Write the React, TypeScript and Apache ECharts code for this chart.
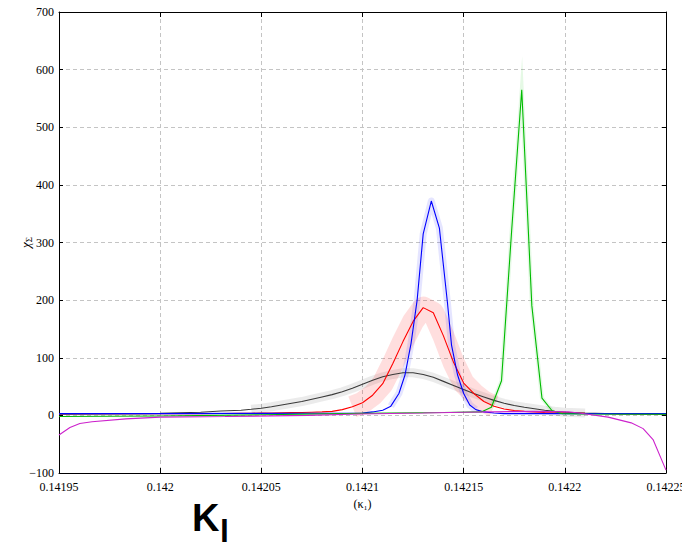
import React, { useEffect, useRef } from "react";
import * as echarts from "echarts";

// x positions (kappa_1) shared by the black and red curves
const kappaGrid = [
  0.14195, 0.14197, 0.14199, 0.142, 0.14201, 0.14202, 0.14203, 0.14204, 0.142045, 0.14205,
  0.142055, 0.14206, 0.142065, 0.14207, 0.142075, 0.14208, 0.142085, 0.14209, 0.142095, 0.1421,
  0.142105, 0.14211, 0.142115, 0.14212, 0.142125, 0.14213, 0.142135, 0.14214, 0.142145, 0.14215,
  0.142155, 0.14216, 0.142165, 0.14217, 0.142175, 0.14218, 0.142185, 0.14219, 0.142195, 0.1422,
  0.14221, 0.14222, 0.14223, 0.14225,
];
const blackY = [
  2, 2.5, 3, 3.5, 4.5, 5.5, 7.5, 9, 10.5, 12.5,
  15, 18, 21, 24, 28, 32, 36, 41, 47, 54,
  61, 67, 71, 74, 74, 71, 66, 59, 52, 45,
  38, 32, 26, 21, 17, 14, 11.5, 9, 7, 5.5,
  4, 3, 2.5, 2,
];
const redY = [
  3, 3, 3, 3, 3, 3, 3.2, 3.5, 3.7, 4,
  4.2, 4.5, 4.8, 5, 5.5, 6, 7, 10, 15, 22,
  35, 55, 90, 128, 163, 187, 178, 138, 92, 56,
  38, 24, 16, 11, 8.5, 7, 6, 5, 4.5, 4,
  3.5, 3.2, 3, 3,
];

const blueX = [
  0.14195, 0.142, 0.14205, 0.1421, 0.142105, 0.14211, 0.142114, 0.142118, 0.142121, 0.142124,
  0.142127, 0.14213, 0.142134, 0.142138, 0.142142, 0.142144, 0.142147, 0.14215, 0.142153, 0.142156,
  0.14216, 0.142165, 0.14217, 0.1422, 0.14225,
];
const blueY = [
  3, 3, 3.5, 4, 6, 9, 16, 38, 70, 125,
  200, 315, 372, 325, 195, 122, 70, 38, 18, 10,
  6, 4, 3, 3, 3,
];

const greenX = [
  0.14195, 0.142, 0.14205, 0.1421, 0.14214, 0.1421587, 0.1421637, 0.1421687, 0.1421737, 0.1421787,
  0.1421837, 0.1421887, 0.1421937, 0.1421987, 0.14221, 0.14225,
];
const greenY = [-2, -1, 1, 3.5, 5, 6, 14, 60, 320, 565, 190, 30, 8, 3, 2.5, 2];

const magentaX = [
  0.14195, 0.1419554, 0.1419603, 0.1419663, 0.141983, 0.142, 0.142032, 0.142073, 0.142098, 0.14213,
  0.14215, 0.142185, 0.1422017, 0.142207, 0.1422214, 0.1422328, 0.1422387, 0.1422436, 0.14225,
];
const magentaY = [-34, -21, -14, -11, -6, -3, -2, 0, 2.5, 4, 5.5, 7, 6, 4, -3, -13, -23, -42, -95];

const xTicks = { min: 0.14195, max: 0.14225, step: 0.00005 };
const yTicks = { min: -100, max: 700, step: 100 };

const pairs = (xs: number[], ys: number[]) => xs.map((x, i) => [x, ys[i]]);

export default function App() {
  const ref = useRef<HTMLDivElement>(null);
  useEffect(() => {
    if (!ref.current) return;
    const chart = echarts.init(ref.current, undefined, { renderer: "svg" });
    const serif = "'Liberation Serif', 'Times New Roman', serif";
    const band = (data: number[][], width: number, color: string, join = "round") => ({
      type: "line",
      data,
      showSymbol: false,
      symbol: "none",
      silent: true,
      z: 1,
      lineStyle: { width, color, join, cap: "butt", miterLimit: 30 },
    });
    const line = (data: number[][], color: string) => ({
      type: "line",
      data,
      showSymbol: false,
      symbol: "none",
      z: 3,
      lineStyle: { width: 1.1, color },
    });
    const black = pairs(kappaGrid, blackY);
    const red = pairs(kappaGrid, redY);
    const blue = pairs(blueX, blueY);
    const green = pairs(greenX, greenY);
    const magenta = pairs(magentaX, magentaY);
    const splitStyle = { show: true, lineStyle: { color: "#c4c4c4", type: [4, 3] } };
    const lineBlack = { show: true, onZero: false, lineStyle: { color: "#000", width: 1 } };
    chart.setOption({
      animation: false,
      grid: {
        left: 59,
        top: 12,
        right: 16,
        bottom: 76,
        outerBoundsMode: "none",
        containLabel: false,
      },
      xAxis: [
        {
          type: "value",
          min: xTicks.min,
          max: xTicks.max,
          interval: xTicks.step,
          name: "(κ₁)",
          nameLocation: "middle",
          nameGap: 25,
          nameMoveOverlap: false,
          nameTextStyle: { fontFamily: serif, fontSize: 12, color: "#000" },
          axisLine: lineBlack,
          axisTick: { show: true, inside: true, length: 5, lineStyle: { color: "#000" } },
          axisLabel: {
            fontFamily: serif,
            fontSize: 12,
            color: "#000",
            margin: 8,
            showMaxLabel: true,
            hideOverlap: false,
            formatter: (v: number) => String(parseFloat(v.toFixed(6))),
          },
          splitLine: splitStyle,
        },
        {
          type: "value",
          position: "top",
          min: xTicks.min,
          max: xTicks.max,
          interval: xTicks.step,
          axisLine: lineBlack,
          axisTick: { show: true, inside: true, length: 5, lineStyle: { color: "#000" } },
          axisLabel: { show: false },
          splitLine: { show: false },
        },
      ],
      yAxis: [
        {
          type: "value",
          min: yTicks.min,
          max: yTicks.max,
          interval: yTicks.step,
          name: "{a|χ}{b|Σ}",
          nameLocation: "middle",
          nameRotate: 90,
          nameGap: 26,
          nameMoveOverlap: false,
          nameTextStyle: {
            rich: {
              a: { fontFamily: serif, fontSize: 13, fontStyle: "italic", color: "#000", lineHeight: 16 },
              b: { fontFamily: serif, fontSize: 9, color: "#000", lineHeight: 16, verticalAlign: "bottom", padding: [4, 0, 0, 0] },
            },
          },
          axisLine: lineBlack,
          axisTick: { show: true, inside: true, length: 4, lineStyle: { color: "#000" } },
          axisLabel: {
            fontFamily: serif,
            fontSize: 12,
            color: "#000",
            margin: 5,
            formatter: (v: number) => String(v).replace("-", "−"),
          },
          splitLine: splitStyle,
        },
        {
          type: "value",
          position: "right",
          min: yTicks.min,
          max: yTicks.max,
          interval: yTicks.step,
          axisLine: lineBlack,
          axisTick: { show: true, inside: true, length: 4, lineStyle: { color: "#000" } },
          axisLabel: { show: false },
          splitLine: { show: false },
        },
      ],
      graphic: [
        {
          type: "text",
          x: 192,
          y: 518,
          style: {
            text: "K",
            fontFamily: "'Liberation Sans', Arial, sans-serif",
            fontWeight: "bold",
            fontSize: 38,
            fill: "#000",
            align: "left",
            verticalAlign: "middle",
          },
        },
        {
          type: "text",
          x: 220,
          y: 531,
          style: {
            text: "l",
            fontFamily: "'Liberation Sans', Arial, sans-serif",
            fontWeight: "bold",
            fontSize: 32,
            fill: "#000",
            align: "left",
            verticalAlign: "middle",
          },
        },
      ],
      series: [
        band(black.slice(8, 41), 9, "rgba(0,0,0,0.08)"),
        band(red.slice(18, 33), 22, "rgba(255,0,0,0.13)"),
        band(blue.slice(6, 20), 7, "rgba(0,0,255,0.1)"),
        band(green.slice(6, 13), 4, "rgba(0,200,0,0.1)", "miter"),
        line(black, "#3a3a3a"),
        line(red, "#ff0000"),
        line(blue, "#0000ff"),
        line(green, "#00bb00"),
        line(magenta, "#cc22cc"),
      ],
    });
    return () => chart.dispose();
  }, []);
  return (
    <div
      ref={ref}
      style={{ position: "fixed", left: 0, top: 0, width: 682, height: 549, background: "#fff" }}
    />
  );
}
